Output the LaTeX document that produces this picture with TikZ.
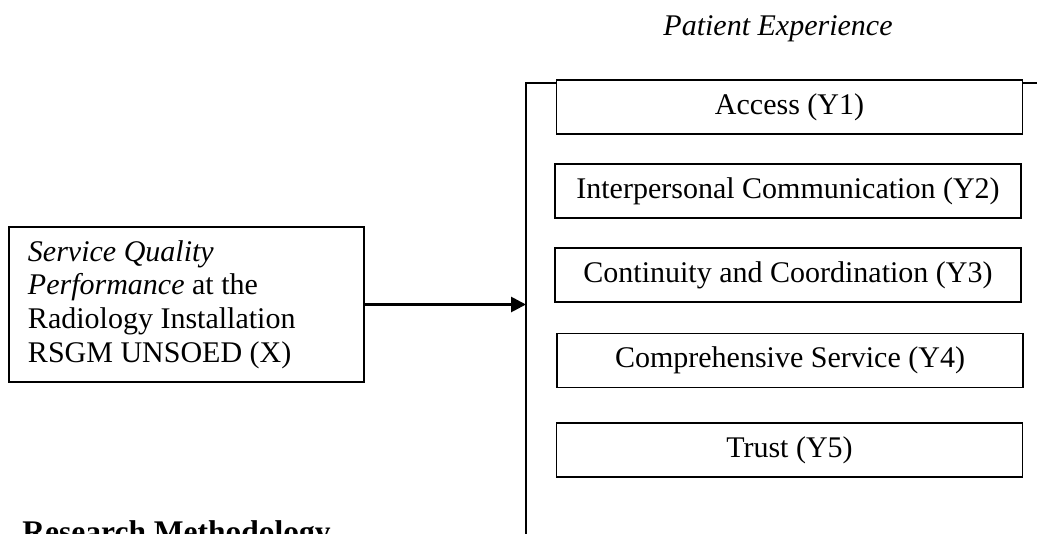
\documentclass[tikz,border=0pt]{standalone}
\usepackage{fontspec}
\setmainfont{Liberation Serif}
\usetikzlibrary{arrows.meta,calc}
\begin{document}
\begin{tikzpicture}[x=0.4pt,y=-0.4pt,
  ybox/.style={draw,line width=0.7pt,fill=white,minimum width=186.4pt,minimum height=21.6pt,inner sep=0pt,font=\fontsize{12}{13.6}\selectfont},
  xbox/.style={draw,line width=0.7pt,fill=white,minimum height=62pt,text width=126.8pt,inner xsep=7.6pt,align=flush left,font=\fontsize{12}{13.5}\selectfont},
  bracketline/.style={line width=0.5pt},
  arrowline/.style={line width=1.1pt,-{Triangle[length=6pt,width=6pt]}}]
\useasboundingbox (0,0) rectangle (1037,533);
\clip (0,0) rectangle (1037,533);
\fill[white] (0,0) rectangle (1037,533);
\coordinate (brtop) at (526,83);
\coordinate (brbot) at (526,545);
\coordinate (brend) at (1045,83);
\draw[bracketline] (brbot) -- (brtop) -- (brend);
\node[font=\fontsize{12}{13.6}\selectfont\itshape,anchor=base] (title) at (778,35) {Patient Experience};
\node[ybox] (Y1) at (789.5,107) {Access (Y1)};
\node[ybox] (Y2) at (788,191) {Interpersonal Communication (Y2)};
\node[ybox] (Y3) at (788,275) {Continuity and Coordination (Y3)};
\node[ybox] (Y4) at (790,360.5) {Comprehensive Service (Y4)};
\node[ybox] (Y5) at (789.5,450) {Trust (Y5)};
\node[xbox] (X) at (186.5,304.5) {\textit{Service Quality}\\\textit{Performance} at the\\Radiology Installation\\RSGM UNSOED (X)};
\draw[arrowline] (X.east) -- (X.east -| brtop);
\node[font=\fontsize{12.6}{14}\selectfont\bfseries,anchor=base west,inner sep=0pt] (rm) at (22,542) {Research Methodology};
\end{tikzpicture}
\end{document}
